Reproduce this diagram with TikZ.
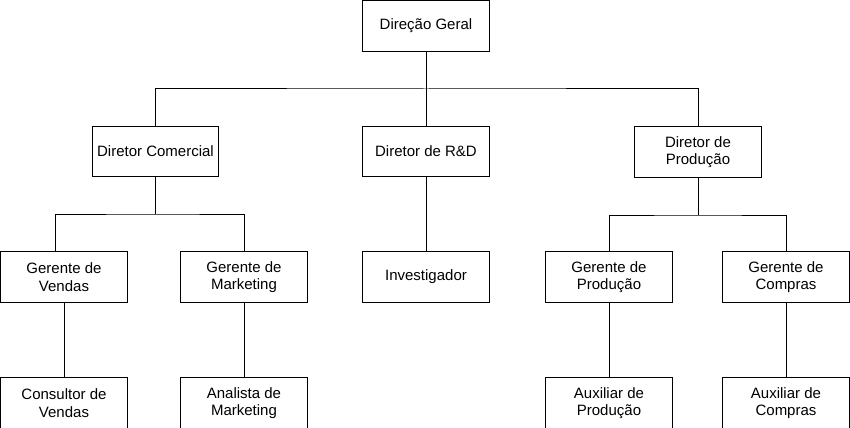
\documentclass[tikz,border=0pt]{standalone}
\usepackage{fontspec}
\setmainfont{Liberation Sans}
\begin{document}
\begin{tikzpicture}[x=0.75pt,y=-0.75pt,
  box/.style={draw=black,line width=0.75pt,fill=white,rectangle,minimum width=95pt,minimum height=37.8pt,inner sep=0pt,align=center,font=\fontsize{11.25}{13}\selectfont},
  conn/.style={draw=black,line width=0.75pt}]
\useasboundingbox (0,0) rectangle (850,428);
% top
\node[box] (top) at (426,26) {Direção Geral};
% level 2
\node[box] (dc) at (155.5,151.5) {Diretor Comercial};
\node[box] (rd) at (426,151.5) {Diretor de R\&D};
\node[box] (dp) at (698,152) {Diretor de\\Produção};
% level 3
\node[box] (gv) at (64,277) {Gerente de\\Vendas};
\node[box] (gm) at (244,277) {Gerente de\\Marketing};
\node[box] (inv) at (426,277) {Investigador};
\node[box] (gp) at (609,277) {Gerente de\\Produção};
\node[box] (gc) at (786,277) {Gerente de\\Compras};
% level 4
\node[box] (cv) at (64,403) {Consultor de\\Vendas};
\node[box] (am) at (244,403) {Analista de\\Marketing};
\node[box] (ap) at (609,403) {Auxiliar de\\Produção};
\node[box] (ac) at (786,403) {Auxiliar de\\Compras};
% coordinates
\coordinate (gvin) at (55,251.5);
% connectors
\draw[conn] (top.south) -- (rd.north);
\draw[conn] (dc.north) |- (426,89) -| (dp.north);
\draw[conn] (dc.south) -- (155.5,214) coordinate (jl);
\draw[conn] (gvin) |- (jl) -| (gm.north);
\draw[conn] (rd.south) -- (inv.north);
\draw[conn] (dp.south) -- (698,215) coordinate (jr);
\draw[conn] (gp.north) |- (jr) -| (gc.north);
\draw[conn] (gv.south) -- (cv.north);
\draw[conn] (gm.south) -- (am.north);
\draw[conn] (gp.south) -- (ap.north);
\draw[conn] (gc.south) -- (ac.north);
\end{tikzpicture}
\end{document}
